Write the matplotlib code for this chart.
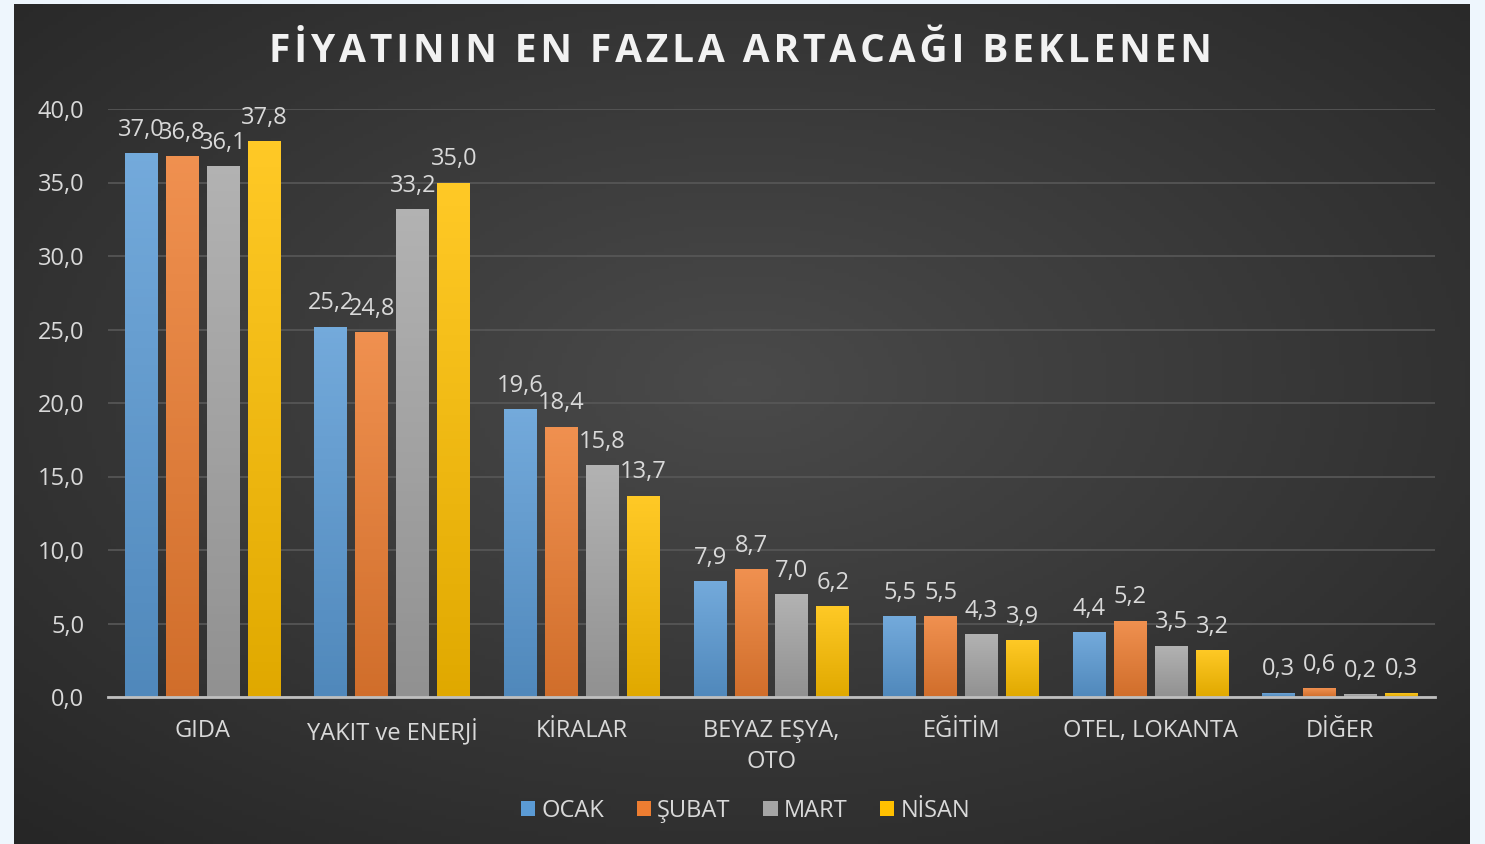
import matplotlib
matplotlib.use("Agg")
import matplotlib.pyplot as plt
import matplotlib.colors as mcolors
import numpy as np

plt.rcParams['font.family'] = ['Open Sans', 'DejaVu Sans']

categories = ["GIDA", "YAKIT ve ENERJİ", "KİRALAR", "BEYAZ EŞYA,\nOTO", "EĞİTİM", "OTEL, LOKANTA", "DİĞER"]
months = ["OCAK", "ŞUBAT", "MART", "NİSAN"]
ocak = [37.0, 25.2, 19.6, 7.9, 5.5, 4.4, 0.3]
subat = [36.8, 24.8, 18.4, 8.7, 5.5, 5.2, 0.6]
mart = [36.1, 33.2, 15.8, 7.0, 4.3, 3.5, 0.2]
nisan = [37.8, 35.0, 13.7, 6.2, 3.9, 3.2, 0.3]
yticks = [0, 5, 10, 15, 20, 25, 30, 35, 40]

series = [ocak, subat, mart, nisan]
colors = ["#5b9bd5", "#ed7d31", "#a5a5a5", "#ffc000"]
txt = "#d9d9d9"

fig = plt.figure(figsize=(14.85, 8.44), dpi=100)
fig.patch.set_facecolor("#eef6fd")

# dark panel with radial gradient
bg = fig.add_axes([14 / 1485, 0, 1456 / 1485, 840 / 844])
bg.set_axis_off()
yy, xx = np.mgrid[0:1:200j, 0:1:300j]
r = np.sqrt(((xx - 0.5) / 0.75) ** 2 + ((yy - 0.45) / 0.75) ** 2)
r = np.clip(r, 0, 1)
cm = mcolors.LinearSegmentedColormap.from_list("bg", ["#4a4a4a", "#262626"])
bg.imshow(r, cmap=cm, aspect="auto", extent=[0, 1, 0, 1], origin="upper")
bg.set_xlim(0, 1)
bg.set_ylim(0, 1)

ax = fig.add_axes([108 / 1485, 1 - 697 / 844, 1327 / 1485, (697 - 109) / 844])
ax.patch.set_alpha(0)

x = np.arange(len(categories))
width = 0.174
step = 0.216
for i, (vals, col) in enumerate(zip(series, colors)):
    pos = x + (i - 1.5) * step
    bars = ax.bar(pos, vals, width, color=col, label=months[i], zorder=3)
    c = np.array(mcolors.to_rgb(col))
    grad = np.linspace(0, 1, 64)[:, None]
    top = np.clip(c + (1 - c) * 0.15, 0, 1)
    bot = c * 0.88
    gimg = top[None, None, :] * (1 - grad[:, :, None]) + bot[None, None, :] * grad[:, :, None]
    for b, v, p in zip(bars, vals, pos):
        im = ax.imshow(gimg, extent=[p - width / 2, p + width / 2, 0, v], aspect="auto",
                       zorder=3.5, origin="upper")
        im.set_clip_path(b)
        ax.annotate(f"{v:.1f}".replace(".", ","), (p, v), xytext=(0, 8), textcoords="offset points",
                    ha="center", va="bottom", color=txt, fontsize=17, zorder=5)

ax.set_xlim(-0.5, len(categories) - 0.5)
ax.set_ylim(0, 40)
ax.set_yticks(yticks)
ax.set_yticklabels([f"{v:.1f}".replace(".", ",") for v in yticks], color=txt, fontsize=17)
ax.set_xticks(x)
ax.set_xticklabels(categories, color=txt, fontsize=17, linespacing=1.4)
ax.tick_params(length=0)
ax.tick_params(axis="y", pad=17)
ax.tick_params(axis="x", pad=16)
ax.yaxis.grid(True, color="#585858", linewidth=1.2, zorder=0)
ax.set_axisbelow(True)
for s in ["top", "right", "left"]:
    ax.spines[s].set_visible(False)
ax.spines["bottom"].set_color("#bfbfbf")
ax.spines["bottom"].set_linewidth(2)
ax.spines["bottom"].set_zorder(6)

title = "FİYATININ EN FAZLA ARTACAĞI BEKLENEN"
fig.text(0.4985, 1 - 51 / 844, "\u200a".join(title), ha="center", va="center",
         color="#f2f2f2", fontsize=28, fontweight="bold")

leg = fig.legend(loc="center", bbox_to_anchor=(0.502, 1 - 811 / 844), ncol=4, frameon=False,
                 fontsize=17, handlelength=0.6, handleheight=0.6, handletextpad=0.25,
                 columnspacing=1.4, labelcolor=txt)

fig.savefig("out.png", dpi=100, facecolor=fig.get_facecolor())
